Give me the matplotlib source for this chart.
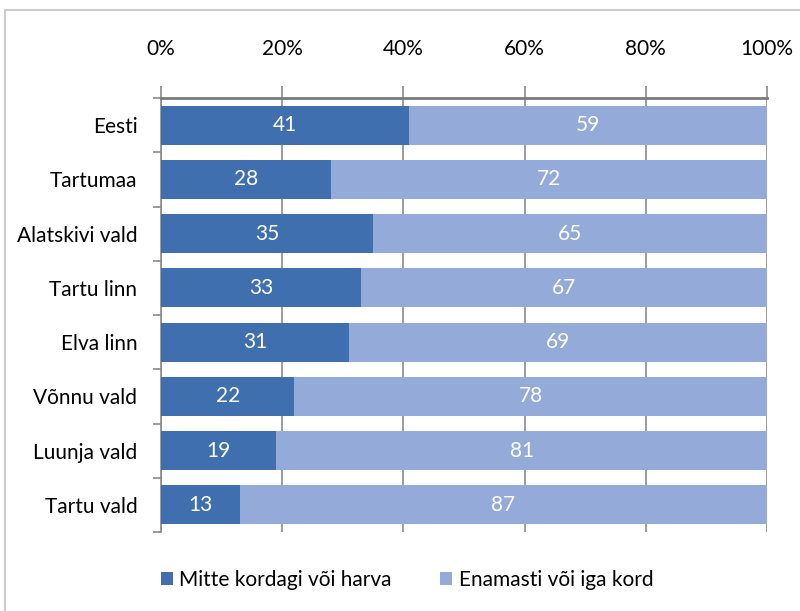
import matplotlib.pyplot as plt
import numpy as np
from matplotlib.patches import Patch, Rectangle

plt.rcParams["font.family"] = ["Lato", "DejaVu Sans"]

regions = ["Eesti", "Tartumaa", "Alatskivi vald", "Tartu linn",
           "Elva linn", "Võnnu vald", "Luunja vald", "Tartu vald"]
rarely = [41, 28, 35, 33, 31, 22, 19, 13]
mostly = [59, 72, 65, 67, 69, 78, 81, 87]
series_names = ["Mitte kordagi või harva", "Enamasti või iga kord"]
xticks = [0, 20, 40, 60, 80, 100]

DARK = "#3f6fae"
LIGHT = "#94aad8"
GRID = "#8a8a8a"
FS = 15

fig = plt.figure(figsize=(8.0, 6.11), dpi=100)
ax = fig.add_axes([161 / 800, 1 - 532 / 611, (767 - 161) / 800, (532 - 98) / 611])

y = np.arange(len(regions))
h = 0.72
ax.barh(y, rarely, height=h, color=DARK, zorder=3)
ax.barh(y, mostly, left=rarely, height=h, color=LIGHT, zorder=3)

for yi, a, b in zip(y, rarely, mostly):
    ax.text(a / 2, yi, f"{a}", ha="center", va="center", color="white",
            fontsize=FS, zorder=4)
    ax.text(a + b / 2, yi, f"{b}", ha="center", va="center", color="white",
            fontsize=FS, zorder=4)

ax.set_xlim(0, 100)
ax.set_ylim(len(regions) - 0.5, -0.5)
ax.set_yticks(y)
ax.set_yticklabels(regions, fontsize=FS)
ax.set_yticks(np.arange(len(regions) + 1) - 0.5, minor=True)
ax.tick_params(axis="y", which="major", length=0, pad=17)
ax.tick_params(axis="y", which="minor", length=6, width=1.2, color=GRID, direction="out")

ax.xaxis.tick_top()
ax.set_xticks(xticks)
ax.set_xticklabels([f"{t}%" for t in xticks], fontsize=FS)
ax.tick_params(axis="x", length=9, width=1.2, color=GRID, direction="out", pad=19)
ax.grid(axis="x", color=GRID, linewidth=1.2, zorder=1)

for side in ("right", "bottom"):
    ax.spines[side].set_visible(False)
ax.spines["top"].set_color("#7a7a7a")
ax.spines["top"].set_linewidth(2)
ax.spines["left"].set_color(GRID)
ax.spines["left"].set_linewidth(1.2)

handles = [Patch(facecolor=DARK), Patch(facecolor=LIGHT)]
fig.legend(handles, series_names, loc="center", bbox_to_anchor=(407 / 800, 1 - 580 / 611),
           ncol=2, frameon=False, fontsize=FS, handlelength=0.6, handleheight=0.6,
           handletextpad=0.3, columnspacing=2.3)

# thin chart frame along the top and left
fig.patches.append(Rectangle((5 / 800, -0.1), 1.2, 1 - 10 / 611 + 0.1,
                             transform=fig.transFigure, fill=False,
                             edgecolor="#cccccc", linewidth=1.5))

fig.savefig("out.png", dpi=100)
